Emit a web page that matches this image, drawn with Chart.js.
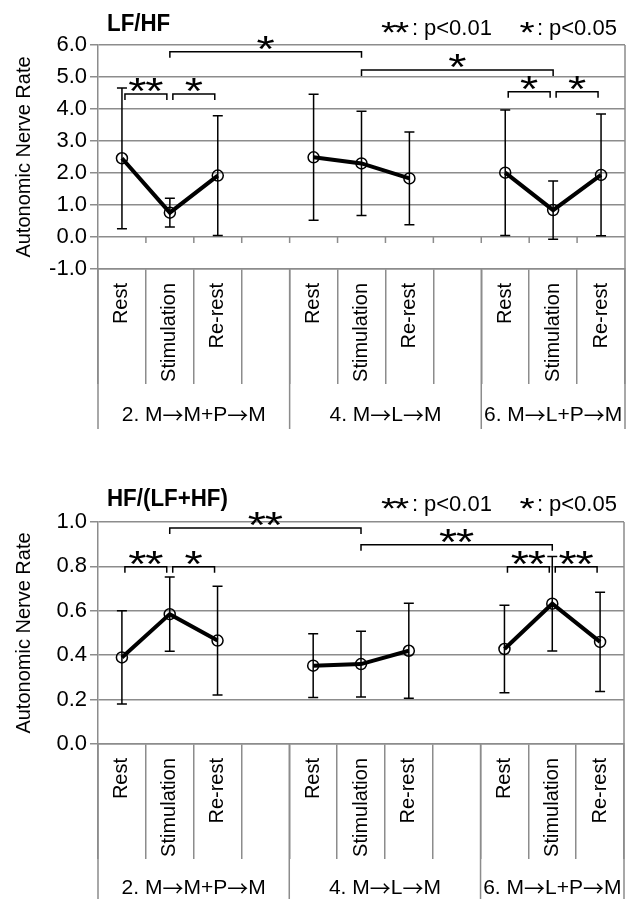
<!DOCTYPE html>
<html>
<head>
<meta charset="utf-8">
<script src="https://cdn.jsdelivr.net/npm/chart.js@4.4.1/dist/chart.umd.min.js"></script>
<style>
  html, body { margin: 0; padding: 0; background: #fff; }
  canvas { display: block; }
</style>
</head>
<body>
<canvas id="lfhfChart" width="635" height="445"></canvas>
<canvas id="hfChart" width="635" height="454"></canvas>
<script>
const FONT  = "'Liberation Sans', Arial, sans-serif";
const ARROW = "'Noto Sans CJK JP', 'DejaVu Sans', sans-serif";
const GRAY  = '#8c8c8c';
const INK   = '#000';

// ── data ──────────────────────────────────────────────────────────────────
const categories = ['Rest', 'Stimulation', 'Re-rest', '',
                    'Rest', 'Stimulation', 'Re-rest', '',
                    'Rest', 'Stimulation', 'Re-rest'];
const groupNames = ['2. M\u2192M+P\u2192M', '4. M\u2192L\u2192M', '6. M\u2192L+P\u2192M'];
const groupFirst = [0, 4, 8];
const groupLast  = [3, 7, 10];

const lfhfMean  = [2.46, 0.76, 1.92, null, 2.49, 2.30, 1.83, null, 2.01, 0.84, 1.94];
const lfhfSD    = [2.20, 0.45, 1.87, null, 1.97, 1.63, 1.45, null, 1.96, 0.91, 1.90];
const lfhfTicks = [-1, 0, 1, 2, 3, 4, 5, 6];
// [from, to, bracket height, mark]
const lfhfSig = [[0, 1, 4.47, '**'], [1, 2, 4.47, '*'], [1, 5, 5.79, '*'],
                 [5, 9, 5.22, '*'], [8, 9, 4.54, '*'], [9, 10, 4.54, '*']];

const hfMean  = [0.390, 0.585, 0.466, null, 0.353, 0.360, 0.420, null, 0.428, 0.632, 0.460];
const hfSD    = [0.210, 0.167, 0.245, null, 0.144, 0.148, 0.214, null, 0.197, 0.213, 0.223];
const hfTicks = [0, 0.2, 0.4, 0.6, 0.8, 1.0];
const hfSig = [[0, 1, 0.798, '**'], [1, 2, 0.798, '*'], [1, 5, 0.973, '**'],
               [5, 9, 0.898, '**'], [8, 9, 0.798, '**'], [9, 10, 0.798, '**']];

Chart.defaults.font.family = FONT;
Chart.defaults.color = INK;

// wide centred asterisks, like the ones in the original figure
function stars(ctx, text, cx, cy, size, step) {
  ctx.save();
  ctx.font = size + 'px ' + FONT;
  ctx.textAlign = 'center';
  ctx.textBaseline = 'alphabetic';
  ctx.fillStyle = INK;
  const m = ctx.measureText('*');
  const base = cy + (m.actualBoundingBoxAscent - m.actualBoundingBoxDescent) / 2;
  const n = text.length;
  for (let i = 0; i < n; i++) {
    ctx.save();
    ctx.translate(cx + (i - (n - 1) / 2) * step, base);
    ctx.scale(1.3, 1);
    ctx.fillText('*', 0, 0);
    ctx.restore();
  }
  ctx.restore();
}

// group label: latin parts in FONT, arrows in a font with a long arrow
function groupLabel(ctx, text, cx, cy, size) {
  const parts = text.split('\u2192');
  const pieces = [];
  parts.forEach((p, i) => {
    if (i > 0) pieces.push({ t: '\u2192', f: size + 'px ' + ARROW });
    pieces.push({ t: p, f: size + 'px ' + FONT });
  });
  let total = 0;
  pieces.forEach(p => { ctx.font = p.f; p.w = ctx.measureText(p.t).width; total += p.w; });
  let px = cx - total / 2;
  ctx.textAlign = 'left';
  ctx.textBaseline = 'middle';
  pieces.forEach(p => { ctx.font = p.f; ctx.fillText(p.t, px, cy); px += p.w; });
}

function extras(cfg) {
  return {
    id: 'extras',
    beforeDatasetsDraw(chart) {
      const { ctx, scales: { x, y } } = chart;
      ctx.save();
      ctx.strokeStyle = INK;
      ctx.lineWidth = 1.5;
      cfg.mean.forEach((m, i) => {
        if (m === null) return;
        const px = x.getPixelForValue(i);
        const top = y.getPixelForValue(m + cfg.sd[i]);
        const bot = y.getPixelForValue(m - cfg.sd[i]);
        ctx.beginPath();
        ctx.moveTo(px, top); ctx.lineTo(px, bot);
        ctx.moveTo(px - 5, top); ctx.lineTo(px + 5, top);
        ctx.moveTo(px - 5, bot); ctx.lineTo(px + 5, bot);
        ctx.stroke();
      });
      ctx.restore();
    },
    afterDraw(chart) {
      const { ctx, chartArea: ca, scales: { x, y } } = chart;
      const edge = b => x.getPixelForValue(b - 0.5);
      ctx.save();

      // frame + group separators below the plot
      ctx.strokeStyle = GRAY;
      ctx.lineWidth = 1.5;
      ctx.beginPath();
      ctx.moveTo(ca.right, ca.top); ctx.lineTo(ca.right, cfg.frameBottom);
      groupFirst.forEach(g => { ctx.moveTo(edge(g), ca.bottom); ctx.lineTo(edge(g), cfg.frameBottom); });
      if (cfg.zeroTicks) {
        const y0 = y.getPixelForValue(0);
        for (let b = 1; b < categories.length; b++) {
          ctx.moveTo(edge(b), y0); ctx.lineTo(edge(b), y0 + 6);
        }
      }
      ctx.stroke();

      // group labels
      ctx.fillStyle = INK;
      groupNames.forEach((g, i) => {
        groupLabel(ctx, g, (edge(groupFirst[i]) + edge(groupLast[i] + 1)) / 2, cfg.groupY, 21);
      });

      // significance brackets
      ctx.strokeStyle = INK;
      ctx.lineWidth = 1.5;
      cfg.sig.forEach(([a, b, v, mark]) => {
        const gap = b - a === 1 ? 3 : 0;
        const x1 = x.getPixelForValue(a) + gap;
        const x2 = x.getPixelForValue(b) - gap;
        const py = y.getPixelForValue(v);
        ctx.beginPath();
        ctx.moveTo(x1, py + 6); ctx.lineTo(x1, py); ctx.lineTo(x2, py); ctx.lineTo(x2, py + 6);
        ctx.stroke();
        stars(ctx, mark, (x1 + x2) / 2, py - 9, 36, 17);
      });

      // title (slightly condensed bold)
      ctx.save();
      ctx.font = 'bold 24px ' + FONT;
      ctx.textAlign = 'left';
      ctx.textBaseline = 'alphabetic';
      ctx.translate(107, cfg.titleBase);
      ctx.scale(0.93, 1);
      ctx.fillText(cfg.title, 0, 0);
      ctx.restore();

      // significance legend
      const lb = cfg.legendBase;
      stars(ctx, '**', 395, lb - 8, 30, 13);
      stars(ctx, '*', 527, lb - 8, 30, 13);
      ctx.font = '22px ' + FONT;
      ctx.textBaseline = 'alphabetic';
      ctx.textAlign = 'center';
      ctx.fillText(':', 415, lb);
      ctx.fillText(':', 540, lb);
      ctx.textAlign = 'left';
      ctx.fillText('p<0.01', 424, lb);
      ctx.fillText('p<0.05', 549, lb);
      ctx.restore();
    }
  };
}

function makeChart(id, cfg) {
  const canvas = document.getElementById(id);
  return new Chart(canvas, {
    type: 'line',
    data: {
      labels: categories,
      datasets: [{
        data: cfg.mean,
        borderColor: INK,
        borderWidth: 4,
        spanGaps: false,
        tension: 0,
        pointRadius: 5.5,
        pointBorderWidth: 1.5,
        pointBorderColor: INK,
        pointBackgroundColor: 'rgba(0,0,0,0)',
      }]
    },
    options: {
      responsive: false,
      animation: false,
      devicePixelRatio: 1,
      layout: { padding: { top: cfg.top, right: cfg.right, bottom: 0, left: 0 } },
      plugins: { legend: { display: false }, tooltip: { enabled: false } },
      scales: {
        x: {
          type: 'category',
          offset: true,
          afterFit: s => { s.height = canvas.height - cfg.bottom; },
          grid: { offset: true, drawOnChartArea: false, drawTicks: true, tickLength: 115, color: GRAY, lineWidth: 1.5 },
          border: { display: true, color: GRAY, width: 1.5 },
          ticks: { autoSkip: false, minRotation: 90, maxRotation: 90, padding: -101, font: { size: 20 }, color: INK }
        },
        y: {
          min: cfg.ticks[0],
          max: cfg.ticks[cfg.ticks.length - 1],
          afterBuildTicks: s => { s.ticks = cfg.ticks.map(v => ({ value: v })); },
          afterFit: s => { s.width = 98; },
          grid: { color: GRAY, lineWidth: 1.5, drawTicks: true, tickLength: 8 },
          border: { display: true, color: GRAY, width: 1.5 },
          ticks: { padding: 3, font: { size: 22 }, color: INK, callback: v => Number(v).toFixed(1) },
          title: { display: true, text: 'Autonomic Nerve Rate', font: { size: 20 }, color: INK, padding: { top: 12, bottom: 0 } }
        }
      }
    },
    plugins: [extras(cfg)]
  });
}

// ── 1. LF/HF ──────────────────────────────────────────────────────────────
makeChart('lfhfChart', {
  title: 'LF/HF', mean: lfhfMean, sd: lfhfSD, ticks: lfhfTicks, sig: lfhfSig,
  top: 45, right: 10, bottom: 269, zeroTicks: true,
  groupY: 415, frameBottom: 429, titleBase: 31, legendBase: 35
});

// ── 2. HF/(LF+HF) ─────────────────────────────────────────────────────────
makeChart('hfChart', {
  title: 'HF/(LF+HF)', mean: hfMean, sd: hfSD, ticks: hfTicks, sig: hfSig,
  top: 77, right: 11, bottom: 299, zeroTicks: false,
  groupY: 443, frameBottom: 454, titleBase: 61, legendBase: 66
});
</script>
</body>
</html>
